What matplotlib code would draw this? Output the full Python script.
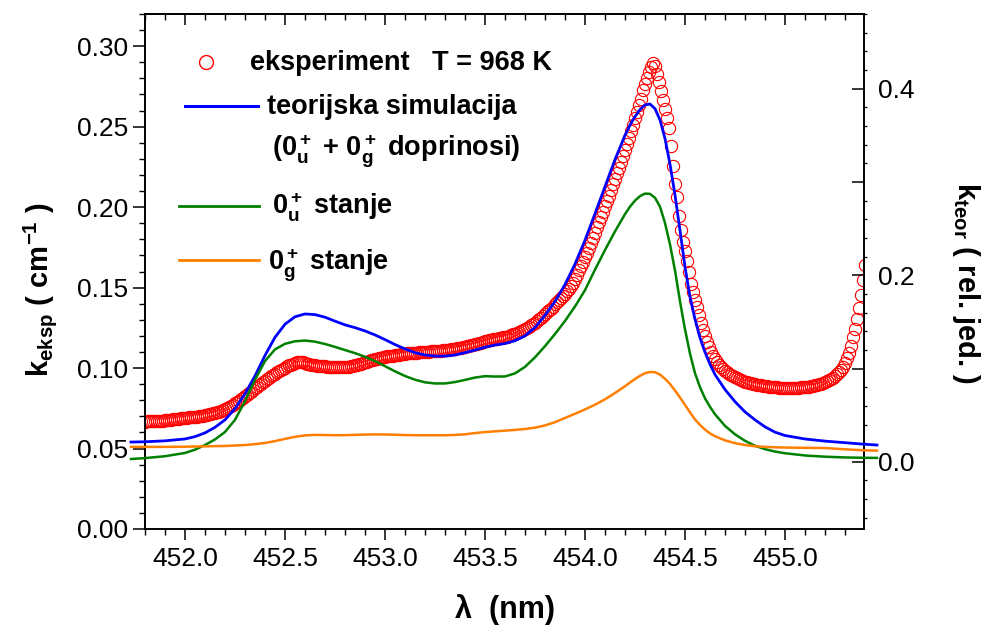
import matplotlib
matplotlib.use("Agg")
import matplotlib.pyplot as plt
from matplotlib.lines import Line2D
from matplotlib.ticker import MultipleLocator, FixedLocator, FixedFormatter, FormatStrFormatter
import numpy as np

plt.rcParams['font.family'] = ['Liberation Sans', 'DejaVu Sans']
plt.rcParams['mathtext.fontset'] = 'custom'
plt.rcParams['mathtext.rm'] = 'Liberation Sans:bold'
plt.rcParams['mathtext.bf'] = 'Liberation Sans:bold'
plt.rcParams['mathtext.it'] = 'Liberation Sans:bold'
plt.rcParams['mathtext.default'] = 'bf'

# ---------------- data ----------------
# experimental absorption coefficient (cm^-1), sampled every 0.01 nm from 451.80 nm
k_eksp = [
    0.0667, 0.0668, 0.0668, 0.0669, 0.0670, 0.0670, 0.0671, 0.0672, 0.0673, 0.0674,
    0.0675, 0.0676, 0.0677, 0.0679, 0.0681, 0.0682, 0.0684, 0.0685, 0.0687, 0.0688,
    0.0690, 0.0691, 0.0693, 0.0694, 0.0696, 0.0697, 0.0699, 0.0701, 0.0703, 0.0705,
    0.0707, 0.0710, 0.0713, 0.0716, 0.0719, 0.0722, 0.0726, 0.0730, 0.0734, 0.0739,
    0.0745, 0.0751, 0.0758, 0.0765, 0.0772, 0.0780, 0.0788, 0.0796, 0.0805, 0.0814,
    0.0824, 0.0834, 0.0844, 0.0854, 0.0864, 0.0874, 0.0884, 0.0894, 0.0903, 0.0912,
    0.0921, 0.0930, 0.0939, 0.0948, 0.0957, 0.0965, 0.0973, 0.0981, 0.0989, 0.0996,
    0.1003, 0.1010, 0.1016, 0.1022, 0.1028, 0.1033, 0.1037, 0.1039, 0.1038, 0.1035,
    0.1031, 0.1027, 0.1024, 0.1021, 0.1019, 0.1017, 0.1015, 0.1013, 0.1012, 0.1011,
    0.1010, 0.1009, 0.1008, 0.1007, 0.1006, 0.1005, 0.1004, 0.1004, 0.1004, 0.1005,
    0.1006, 0.1007, 0.1009, 0.1011, 0.1014, 0.1017, 0.1020, 0.1024, 0.1028, 0.1032,
    0.1036, 0.1040, 0.1044, 0.1048, 0.1051, 0.1055, 0.1058, 0.1061, 0.1064, 0.1067,
    0.1070, 0.1072, 0.1074, 0.1076, 0.1078, 0.1080, 0.1082, 0.1084, 0.1086, 0.1088,
    0.1090, 0.1091, 0.1092, 0.1093, 0.1094, 0.1095, 0.1096, 0.1097, 0.1098, 0.1099,
    0.1100, 0.1101, 0.1102, 0.1103, 0.1104, 0.1105, 0.1106, 0.1107, 0.1108, 0.1110,
    0.1111, 0.1113, 0.1115, 0.1117, 0.1119, 0.1121, 0.1123, 0.1125, 0.1127, 0.1129,
    0.1132, 0.1135, 0.1138, 0.1141, 0.1143, 0.1147, 0.1151, 0.1155, 0.1158, 0.1162,
    0.1166, 0.1169, 0.1172, 0.1175, 0.1178, 0.1181, 0.1183, 0.1186, 0.1188, 0.1191,
    0.1193, 0.1196, 0.1200, 0.1204, 0.1209, 0.1214, 0.1219, 0.1225, 0.1231, 0.1237,
    0.1243, 0.1250, 0.1257, 0.1265, 0.1274, 0.1283, 0.1292, 0.1302, 0.1313, 0.1324,
    0.1335, 0.1346, 0.1358, 0.1370, 0.1382, 0.1395, 0.1408, 0.1421, 0.1435, 0.1449,
    0.1463, 0.1478, 0.1493, 0.1509, 0.1526, 0.1553, 0.1580, 0.1607, 0.1634, 0.1661,
    0.1689, 0.1717, 0.1745, 0.1774, 0.1810, 0.1842, 0.1874, 0.1906, 0.1938, 0.1971,
    0.2004, 0.2038, 0.2072, 0.2106, 0.2141, 0.2176, 0.2211, 0.2246, 0.2282, 0.2318,
    0.2354, 0.2391, 0.2431, 0.2471, 0.2511, 0.2551, 0.2591, 0.2632, 0.2672, 0.2725,
    0.2762, 0.2805, 0.2840, 0.2870, 0.2893, 0.2880, 0.2825, 0.2775, 0.2720, 0.2665,
    0.2610, 0.2555, 0.2490, 0.2380, 0.2255, 0.2145, 0.2060, 0.1945, 0.1855, 0.1785,
    0.1725, 0.1665, 0.1595, 0.1525, 0.1475, 0.1425, 0.1380, 0.1330, 0.1282, 0.1236,
    0.1200, 0.1165, 0.1130, 0.1100, 0.1075, 0.1055, 0.1037, 0.1020, 0.1006, 0.0994,
    0.0983, 0.0973, 0.0964, 0.0956, 0.0948, 0.0942, 0.0936, 0.0930, 0.0925, 0.0920,
    0.0916, 0.0912, 0.0908, 0.0905, 0.0902, 0.0899, 0.0896, 0.0894, 0.0892, 0.0890,
    0.0888, 0.0886, 0.0884, 0.0883, 0.0882, 0.0881, 0.0880, 0.0879, 0.0878, 0.0878,
    0.0877, 0.0877, 0.0877, 0.0877, 0.0877, 0.0878, 0.0878, 0.0879, 0.0880, 0.0881,
    0.0882, 0.0883, 0.0885, 0.0887, 0.0889, 0.0892, 0.0895, 0.0898, 0.0902, 0.0906,
    0.0911, 0.0917, 0.0924, 0.0932, 0.0941, 0.0951, 0.0962, 0.0975, 0.0985, 0.1005,
    0.1030, 0.1060, 0.1095, 0.1140, 0.1190, 0.1245, 0.1305, 0.1375, 0.1455, 0.1545,
    0.1640,
]
lam_eksp_start, lam_eksp_step = 451.80, 0.01

# theoretical simulation (relative units)
lam_teor = [
    451.73, 451.80, 451.90, 452.00, 452.05, 452.10, 452.15, 452.20, 452.25, 452.30,
    452.35, 452.40, 452.45, 452.50, 452.55, 452.60, 452.65, 452.70, 452.75, 452.80,
    452.85, 452.90, 452.95, 453.00, 453.05, 453.10, 453.15, 453.20, 453.25, 453.30,
    453.35, 453.40, 453.45, 453.50, 453.55, 453.60, 453.65, 453.70, 453.75, 453.80,
    453.85, 453.90, 453.95, 454.00, 454.05, 454.10, 454.15, 454.20, 454.225, 454.25,
    454.275, 454.30, 454.325, 454.35, 454.375, 454.40, 454.425, 454.45, 454.475, 454.50,
    454.525, 454.55, 454.575, 454.60, 454.625, 454.65, 454.70, 454.75, 454.80, 454.85,
    454.90, 454.95, 455.00, 455.10, 455.20, 455.30, 455.40, 455.46,
]
k_teor_sum = [
    0.0212, 0.0215, 0.0225, 0.0245, 0.0270, 0.0310, 0.0370, 0.0450, 0.0570, 0.0730,
    0.0920, 0.1140, 0.1335, 0.1475, 0.1555, 0.1585, 0.1578, 0.1550, 0.1508, 0.1468,
    0.1438, 0.1403, 0.1360, 0.1310, 0.1257, 0.1210, 0.1170, 0.1145, 0.1133, 0.1133,
    0.1145, 0.1170, 0.1198, 0.1228, 0.1252, 0.1268, 0.1298, 0.1350, 0.1440, 0.1570,
    0.1720, 0.1900, 0.2120, 0.2375, 0.2660, 0.2950, 0.3240, 0.3500, 0.3610, 0.3700,
    0.3775, 0.3825, 0.3835, 0.3785, 0.3665, 0.3465, 0.3190, 0.2860, 0.2480, 0.2090,
    0.1770, 0.1530, 0.1330, 0.1175, 0.1045, 0.0935, 0.0775, 0.0645, 0.0535, 0.0450,
    0.0375, 0.0318, 0.0282, 0.0245, 0.0222, 0.0205, 0.0188, 0.0180,
]
k_teor_0u = [
    0.0030, 0.0040, 0.0060, 0.0095, 0.0130, 0.0180, 0.0240, 0.0320, 0.0450, 0.0650,
    0.0880, 0.1080, 0.1205, 0.1265, 0.1292, 0.1300, 0.1288, 0.1263, 0.1232, 0.1198,
    0.1165, 0.1126, 0.1080, 0.1025, 0.0970, 0.0920, 0.0880, 0.0852, 0.0840, 0.0840,
    0.0855, 0.0878, 0.0903, 0.0918, 0.0914, 0.0915, 0.0948, 0.1018, 0.1120, 0.1240,
    0.1370, 0.1510, 0.1665, 0.1840, 0.2060, 0.2270, 0.2470, 0.2655, 0.2735, 0.2800,
    0.2848, 0.2875, 0.2872, 0.2830, 0.2735, 0.2560, 0.2330, 0.2050, 0.1720, 0.1420,
    0.1160, 0.0950, 0.0800, 0.0680, 0.0590, 0.0510, 0.0385, 0.0295, 0.0225, 0.0172,
    0.0136, 0.0110, 0.0092, 0.0068, 0.0055, 0.0047, 0.0043, 0.0042,
]
k_teor_0g = [
    0.0160, 0.0160, 0.0160, 0.0162, 0.0164, 0.0166, 0.0168, 0.0170, 0.0175, 0.0180,
    0.0190, 0.0202, 0.0222, 0.0246, 0.0268, 0.0283, 0.0289, 0.0287, 0.0285, 0.0286,
    0.0289, 0.0292, 0.0294, 0.0293, 0.0290, 0.0287, 0.0285, 0.0285, 0.0285, 0.0285,
    0.0288, 0.0295, 0.0308, 0.0319, 0.0327, 0.0334, 0.0342, 0.0352, 0.0366, 0.0390,
    0.0425, 0.0470, 0.0515, 0.0562, 0.0612, 0.0670, 0.0738, 0.0810, 0.0850, 0.0888,
    0.0922, 0.0950, 0.0963, 0.0960, 0.0935, 0.0890, 0.0835, 0.0765, 0.0690, 0.0610,
    0.0530, 0.0455, 0.0395, 0.0345, 0.0305, 0.0275, 0.0230, 0.0200, 0.0180, 0.0167,
    0.0160, 0.0156, 0.0153, 0.0150, 0.0148, 0.0134, 0.0123, 0.0120,
]

x_ticks = [452.0, 452.5, 453.0, 453.5, 454.0, 454.5, 455.0]
right_ticks = [0.0, 0.1, 0.2, 0.3, 0.4]
right_labels = ['0.0', '', '0.2', '', '0.4']

legend_labels = ['eksperiment   T = 968 K',
                 'teorijska simulacija',
                 '(0$_u^+$ + 0$_g^+$ doprinosi)',
                 '0$_u^+$ stanje',
                 '0$_g^+$ stanje']

lam_eksp = np.round(lam_eksp_start + lam_eksp_step * np.arange(len(k_eksp)), 2)

# ---------------- figure ----------------
W, H = 984, 632
fig = plt.figure(figsize=(W / 100, H / 100), dpi=100)

def fx(px):
    return px / W

def fy(py):
    return 1 - py / H

L, R, T, B = 145, 864, 14, 529
ax = fig.add_axes([fx(L), fy(B), (R - L) / W, (B - T) / H])
ax2 = ax.twinx()

RED = '#ff0000'
BLUE = '#0000ff'
GREEN = '#008000'
ORANGE = '#ff8000'

ax.plot(lam_eksp, k_eksp, linestyle='none', marker='o', mfc='none', mec=RED,
        ms=8.8, mew=0.8, zorder=2)

ax2.plot(lam_teor, k_teor_sum, color=BLUE, lw=2.0, clip_on=False, zorder=3)
ax2.plot(lam_teor, k_teor_0u, color=GREEN, lw=1.8, clip_on=False, zorder=3)
ax2.plot(lam_teor, k_teor_0g, color=ORANGE, lw=1.8, clip_on=False, zorder=3)

ax.set_xlim(451.8, 455.395)
ax.set_ylim(0, 0.32)
ax2.set_ylim(-0.072, 0.48)

for a in (ax, ax2):
    for s in a.spines.values():
        s.set_linewidth(1.2)

# x axis
ax.xaxis.set_major_locator(FixedLocator(x_ticks))
ax.xaxis.set_minor_locator(MultipleLocator(0.1))
ax.xaxis.set_major_formatter(FormatStrFormatter('%.1f'))
ax.tick_params(axis='x', which='major', direction='out', length=8, width=1.1,
               labelsize=19, pad=5)
ax.tick_params(axis='x', which='minor', direction='out', length=4, width=1.0)

secx = ax.secondary_xaxis('top')
secx.xaxis.set_major_locator(FixedLocator(x_ticks))
secx.xaxis.set_minor_locator(MultipleLocator(0.1))
secx.tick_params(axis='x', which='major', direction='in', length=8, width=1.1, labeltop=False)
secx.tick_params(axis='x', which='minor', direction='in', length=4, width=1.0)
secx.spines['top'].set_linewidth(1.2)

# left y axis
ax.yaxis.set_major_locator(MultipleLocator(0.05))
ax.yaxis.set_minor_locator(MultipleLocator(0.01))
ax.yaxis.set_major_formatter(FormatStrFormatter('%.2f'))
ax.tick_params(axis='y', which='major', direction='out', length=9, width=1.1,
               labelsize=19, pad=3)
ax.tick_params(axis='y', which='minor', direction='out', length=4, width=1.0)

# right y axis
ax2.yaxis.set_major_locator(FixedLocator(right_ticks))
ax2.yaxis.set_major_formatter(FixedFormatter(right_labels))
ax2.yaxis.set_minor_locator(MultipleLocator(0.02))
ax2.tick_params(axis='y', which='major', direction='in', length=9, width=1.1,
                labelsize=19, pad=10)
ax2.tick_params(axis='y', which='minor', direction='out', length=2.5, width=0.9)

# axis labels
fig.text(fx(505), fy(610), 'λ  (nm)', ha='center', va='center',
         fontsize=22, fontweight='bold')
fig.text(fx(40), fy(290), 'k$_{eksp}$ ( cm$^{-1}$ )', ha='center', va='center',
         rotation=90, fontsize=21, fontweight='bold')
fig.text(fx(966), fy(283), 'k$_{teor}$ ( rel. jed. )', ha='center', va='center',
         rotation=-90, fontsize=21, fontweight='bold')

# legend (manual layout)
fs_leg = 19.5
fig.add_artist(Line2D([fx(206)], [fy(62)], linestyle='none', marker='o', mfc='none',
                      mec=RED, ms=10, mew=1.0, transform=fig.transFigure))
fig.text(fx(250), fy(70), legend_labels[0], fontsize=fs_leg, fontweight='bold', va='baseline')

fig.add_artist(Line2D([fx(185), fx(258)], [fy(105.7), fy(105.7)], color=BLUE, lw=2.2,
                      transform=fig.transFigure))
fig.text(fx(266.7), fy(114.3), legend_labels[1], fontsize=fs_leg, fontweight='bold', va='baseline')
fig.text(fx(271.7), fy(156.7), legend_labels[2], fontsize=fs_leg, fontweight='bold', va='baseline')

fig.add_artist(Line2D([fx(179), fx(259)], [fy(205.7), fy(205.7)], color=GREEN, lw=2.0,
                      transform=fig.transFigure))
fig.text(fx(271.7), fy(214.3), legend_labels[3], fontsize=fs_leg, fontweight='bold', va='baseline')

fig.add_artist(Line2D([fx(179), fx(259)], [fy(260), fy(260)], color=ORANGE, lw=2.0,
                      transform=fig.transFigure))
fig.text(fx(268.3), fy(270), legend_labels[4], fontsize=fs_leg, fontweight='bold', va='baseline')

fig.savefig('out.png', dpi=100)
